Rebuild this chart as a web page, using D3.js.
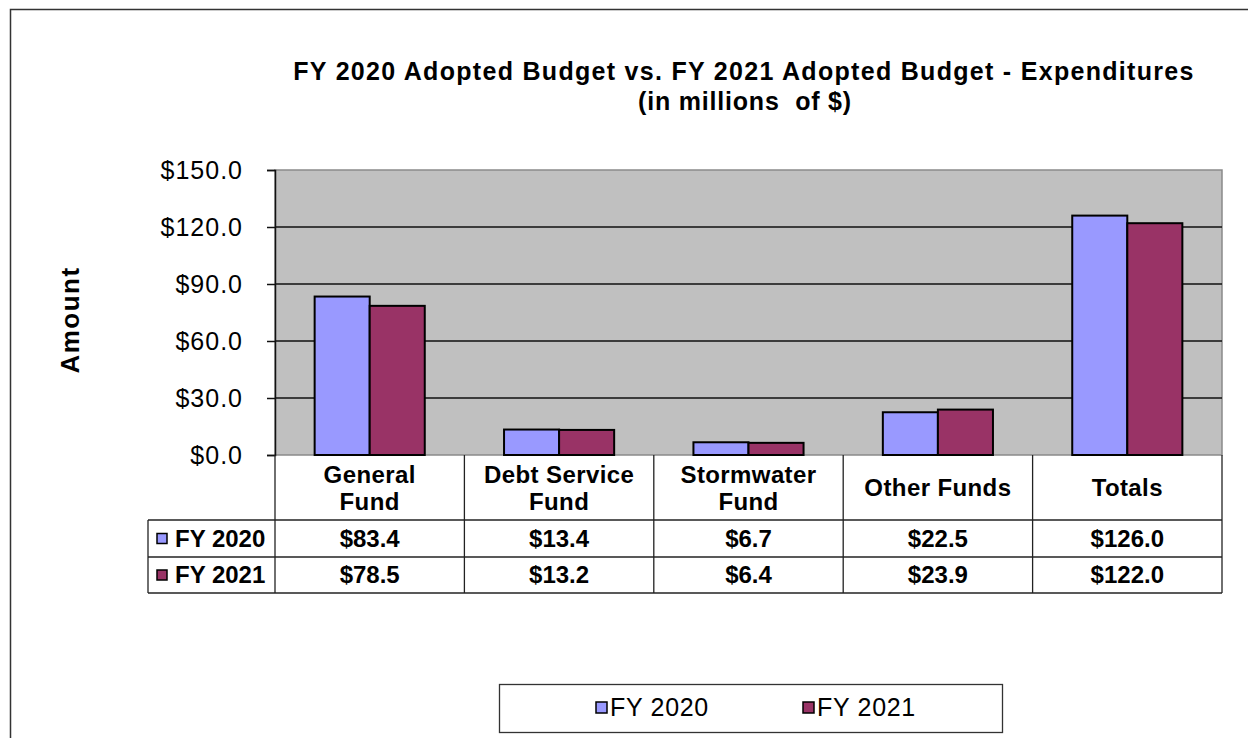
<!DOCTYPE html>
<html>
<head>
<meta charset="utf-8">
<script src="https://cdn.jsdelivr.net/npm/d3@7"></script>
<style>
  body { margin: 0; background: #fff; }
  svg text { font-family: "Liberation Sans", Arial, sans-serif; fill: #000; }
</style>
</head>
<body>
<svg id="chart" width="1248" height="738"></svg>
<script>
// Budget data (millions of dollars)
const categories = ["General\nFund", "Debt Service\nFund", "Stormwater\nFund", "Other Funds", "Totals"];
const seriesNames = ["FY 2020", "FY 2021"];
const fy2020 = [83.4, 13.4, 6.7, 22.5, 126.0];
const fy2021 = [78.5, 13.2, 6.4, 23.9, 122.0];
const yTicks = [0, 30, 60, 90, 120, 150];
const seriesColors = ["#9999ff", "#993366"];

const seriesValues = [fy2020, fy2021];
const money = d => "$" + d.toFixed(1);

const svg = d3.select("#chart");

// Outer frame (top and left edges)
svg.append("path")
  .attr("d", "M10.5,738 V9.5 H1248")
  .attr("fill", "none").attr("stroke", "#333").attr("stroke-width", 1.5);

const plot = { left: 275, right: 1222, top: 170, bottom: 455 };

const x = d3.scaleBand().domain(categories).range([plot.left, plot.right]).padding(0);
const xs = d3.scaleBand().domain(seriesNames).range([0, x.bandwidth()]).paddingInner(0).paddingOuter(0.72);
const y = d3.scaleLinear().domain([0, 150]).range([plot.bottom, plot.top]);

// Title
const title = svg.append("text")
  .attr("text-anchor", "middle")
  .attr("font-weight", "bold")
  .attr("font-size", 25);
title.append("tspan").attr("x", 744).attr("y", 80).attr("letter-spacing", 1.3)
  .text("FY 2020 Adopted Budget vs. FY 2021 Adopted Budget - Expenditures");
title.append("tspan").attr("x", 745).attr("y", 110).attr("letter-spacing", 0.8)
  .attr("xml:space", "preserve").text("(in millions  of $)");

// Plot background
svg.append("rect")
  .attr("x", plot.left).attr("y", plot.top)
  .attr("width", plot.right - plot.left).attr("height", plot.bottom - plot.top)
  .attr("fill", "#c0c0c0").attr("stroke", "#8a8a8a").attr("stroke-width", 1.5);

// Gridlines
svg.append("g").selectAll("line")
  .data(yTicks.filter(t => t > 0 && t < 150))
  .join("line")
  .attr("x1", plot.left).attr("x2", plot.right)
  .attr("y1", d => y(d)).attr("y2", d => y(d))
  .attr("stroke", "#111").attr("stroke-width", 1.5);

// Bars
const groups = svg.append("g").selectAll("g")
  .data(seriesNames)
  .join("g")
  .attr("fill", (d, i) => seriesColors[i]);

groups.selectAll("rect")
  .data((s, si) => categories.map((c, ci) => ({ c, s, v: seriesValues[si][ci] })))
  .join("rect")
  .attr("x", d => x(d.c) + xs(d.s))
  .attr("width", xs.bandwidth())
  .attr("y", d => y(d.v))
  .attr("height", d => y(0) - y(d.v))
  .attr("stroke", "#000").attr("stroke-width", 2);

// Y axis
const yAxis = svg.append("g")
  .attr("transform", `translate(${plot.left},0)`)
  .call(d3.axisLeft(y).tickValues(yTicks).tickFormat(money).tickSize(8).tickPadding(24));
yAxis.select(".domain").attr("stroke", "#111").attr("stroke-width", 1.5);
yAxis.selectAll(".tick line").attr("stroke", "#111").attr("stroke-width", 1.5);
yAxis.selectAll(".tick text")
  .attr("font-size", 25)
  .attr("letter-spacing", 1)
  .attr("font-family", "\"Liberation Sans\", Arial, sans-serif")
  .attr("fill", "#000")
  .attr("dy", "0.35em");

// Y axis title
svg.append("text")
  .attr("transform", "translate(79,320) rotate(-90)")
  .attr("text-anchor", "middle")
  .attr("font-weight", "bold")
  .attr("font-size", 26)
  .attr("letter-spacing", 1.5)
  .text("Amount");

// Data table
const table = { left: 148, headerTop: plot.bottom, headerBottom: 520, row1: 557, row2: 593 };
const tg = svg.append("g").attr("stroke", "#222").attr("stroke-width", 1.3);

// vertical lines at category boundaries
const bounds = categories.map(c => x(c)).concat([plot.right]);
tg.selectAll("line.v")
  .data(bounds)
  .join("line")
  .attr("class", "v")
  .attr("x1", d => d).attr("x2", d => d)
  .attr("y1", table.headerTop).attr("y2", table.row2);
tg.append("line")
  .attr("x1", table.left).attr("x2", table.left)
  .attr("y1", table.headerBottom).attr("y2", table.row2);
tg.selectAll("line.h")
  .data([table.headerBottom, table.row1, table.row2])
  .join("line")
  .attr("class", "h")
  .attr("x1", table.left).attr("x2", plot.right)
  .attr("y1", d => d).attr("y2", d => d);

// header labels
const hdr = svg.append("g").attr("font-weight", "bold").attr("font-size", 24)
  .attr("letter-spacing", 0.4).attr("text-anchor", "middle");
categories.forEach(c => {
  const lines = c.split("\n");
  const cx = x(c) + x.bandwidth() / 2;
  const t = hdr.append("text");
  if (lines.length === 2) {
    t.append("tspan").attr("x", cx).attr("y", 483).text(lines[0]);
    t.append("tspan").attr("x", cx).attr("y", 510).text(lines[1]);
  } else {
    t.append("tspan").attr("x", cx).attr("y", 496).text(lines[0]);
  }
});

// value rows
const rowBaselines = [547, 583];
const rowMid = [(table.headerBottom + table.row1) / 2, (table.row1 + table.row2) / 2];
seriesNames.forEach((s, si) => {
  const row = svg.append("g").attr("font-weight", "bold").attr("font-size", 24);
  row.append("rect")
    .attr("x", 157).attr("y", rowMid[si] - 5)
    .attr("width", 10).attr("height", 10)
    .attr("fill", seriesColors[si]).attr("stroke", "#000").attr("stroke-width", 1.5);
  row.append("text").attr("x", 175).attr("y", rowBaselines[si]).text(s);
  row.selectAll("text.val")
    .data(seriesValues[si])
    .join("text")
    .attr("class", "val")
    .attr("text-anchor", "middle")
    .attr("x", (d, i) => x(categories[i]) + x.bandwidth() / 2)
    .attr("y", rowBaselines[si])
    .text(money);
});

// Legend
const legend = svg.append("g");
legend.append("rect")
  .attr("x", 499.5).attr("y", 684.5).attr("width", 503).attr("height", 48)
  .attr("fill", "#fff").attr("stroke", "#333").attr("stroke-width", 1.3);
const legendX = [596, 803];
seriesNames.forEach((s, si) => {
  legend.append("rect")
    .attr("x", legendX[si]).attr("y", 702)
    .attr("width", 11).attr("height", 11)
    .attr("fill", seriesColors[si]).attr("stroke", "#000").attr("stroke-width", 1.5);
  legend.append("text")
    .attr("x", legendX[si] + 14).attr("y", 716)
    .attr("font-size", 25)
    .attr("letter-spacing", 0.7)
    .text(s);
});
</script>
</body>
</html>
